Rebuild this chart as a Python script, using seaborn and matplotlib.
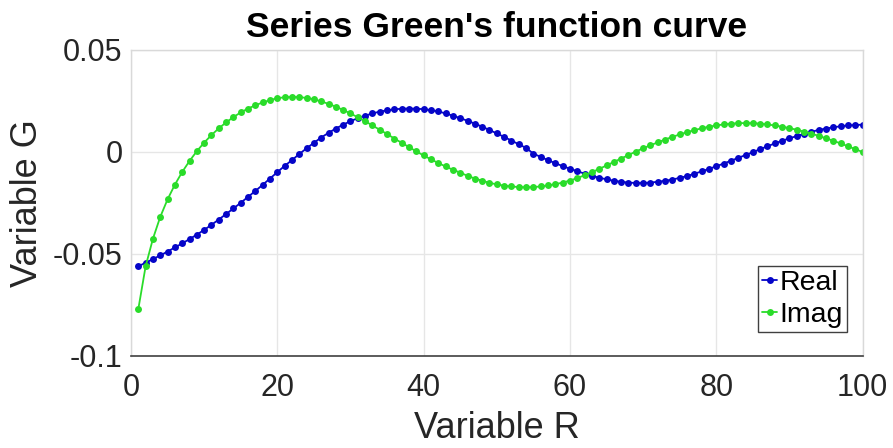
import matplotlib
matplotlib.use("Agg")
import matplotlib.pyplot as plt
import seaborn as sns
import pandas as pd

# Sample positions and the two parts of the Green's function
r_values = list(range(1, 101))

real_part = [
    -0.0560, -0.0543, -0.0525, -0.0507, -0.0488, -0.0468, -0.0448, -0.0427, -0.0405, -0.0382,
    -0.0357, -0.0331, -0.0304, -0.0277, -0.0249, -0.0220, -0.0191, -0.0161, -0.0130, -0.0099,
    -0.0068, -0.0040, -0.0010, 0.0018, 0.0045, 0.0071, 0.0094, 0.0115, 0.0134, 0.0151,
    0.0166, 0.0178, 0.0189, 0.0198, 0.0204, 0.0209, 0.0212, 0.0213, 0.0212, 0.0210,
    0.0205, 0.0199, 0.0189, 0.0178, 0.0166, 0.0153, 0.0139, 0.0124, 0.0108, 0.0091,
    0.0074, 0.0056, 0.0038, 0.0020, -0.0008, -0.0024, -0.0040, -0.0055, -0.0069, -0.0082,
    -0.0094, -0.0106, -0.0117, -0.0126, -0.0134, -0.0141, -0.0146, -0.0150, -0.0152, -0.0152,
    -0.0150, -0.0146, -0.0141, -0.0135, -0.0127, -0.0118, -0.0107, -0.0095, -0.0083, -0.0070,
    -0.0057, -0.0043, -0.0029, -0.0015, -0.0001, 0.0014, 0.0028, 0.0042, 0.0055, 0.0067,
    0.0078, 0.0089, 0.0099, 0.0108, 0.0115, 0.0121, 0.0126, 0.0130, 0.0132, 0.0134,
]

imag_part = [
    -0.0770, -0.0560, -0.0425, -0.0318, -0.0232, -0.0160, -0.0098, -0.0044, 0.0004, 0.0046,
    0.0083, 0.0116, 0.0145, 0.0171, 0.0194, 0.0213, 0.0229, 0.0243, 0.0254, 0.0264,
    0.0268, 0.0270, 0.0269, 0.0265, 0.0258, 0.0248, 0.0236, 0.0222, 0.0206, 0.0189,
    0.0170, 0.0151, 0.0130, 0.0109, 0.0088, 0.0066, 0.0045, 0.0024, 0.0003, -0.0017,
    -0.0036, -0.0054, -0.0071, -0.0087, -0.0101, -0.0117, -0.0130, -0.0141, -0.0151, -0.0159,
    -0.0165, -0.0169, -0.0172, -0.0173, -0.0172, -0.0169, -0.0164, -0.0158, -0.0150, -0.0140,
    -0.0128, -0.0114, -0.0099, -0.0083, -0.0066, -0.0049, -0.0032, -0.0015, 0.0002, 0.0018,
    0.0033, 0.0047, 0.0061, 0.0074, 0.0086, 0.0097, 0.0107, 0.0116, 0.0124, 0.0130,
    0.0135, 0.0139, 0.0141, 0.0142, 0.0141, 0.0139, 0.0135, 0.0130, 0.0124, 0.0117,
    0.0109, 0.0100, 0.0090, 0.0079, 0.0067, 0.0055, 0.0042, 0.0028, 0.0014, 0.0000,
]

series_names = ["Real", "Imag"]
series_colors = ["#0505C8", "#2ADC2A"]

x_ticks = [0, 20, 40, 60, 80, 100]
y_ticks = [-0.1, -0.05, 0, 0.05]
y_tick_labels = ["-0.1", "-0.05", "0", "0.05"]

df = pd.DataFrame({
    "R": r_values * 2,
    "G": real_part + imag_part,
    "part": [series_names[0]] * len(r_values) + [series_names[1]] * len(r_values),
})

sns.set_theme(style="white")
plt.rcParams["font.family"] = ["Liberation Sans", "DejaVu Sans"]
plt.rcParams["axes.unicode_minus"] = False

fig = plt.figure(figsize=(8.93, 4.48), dpi=100)
ax = fig.add_axes([0.1467, 0.2054, 0.8192, 0.6830])

sns.lineplot(
    data=df, x="R", y="G", hue="part", hue_order=series_names,
    palette=series_colors, marker="o", markersize=5.0, markeredgewidth=0,
    linewidth=1.3, ax=ax, legend=True,
)

ax.set_xlim(0, 100)
ax.set_ylim(-0.1, 0.05)
ax.set_xticks(x_ticks)
ax.set_xticklabels([str(t) for t in x_ticks])
ax.set_yticks(y_ticks)
ax.set_yticklabels(y_tick_labels)

ax.grid(True, color="#e6e6e6", linewidth=1.0)
ax.set_axisbelow(True)

for side in ["top", "right", "left"]:
    ax.spines[side].set_color("#d9d9d9")
    ax.spines[side].set_linewidth(1.0)
ax.spines["bottom"].set_color("#404040")
ax.spines["bottom"].set_linewidth(1.2)

ax.tick_params(axis="both", direction="in", labelsize=22, labelcolor="#262626")
ax.tick_params(axis="x", length=4, color="#404040", pad=12)
ax.tick_params(axis="y", length=4, color="#bdbdbd", pad=6)

ax.set_xlabel("Variable R", fontsize=26, color="#262626", labelpad=6)
ax.set_ylabel("Variable G", fontsize=26, color="#262626", labelpad=6)
ax.set_title("Series Green's function curve", fontsize=25.5, fontweight="bold",
             color="black", pad=9)

leg = ax.legend(
    loc="lower right", bbox_to_anchor=(0.979, 0.078), borderaxespad=0,
    fontsize=20.5, frameon=True, fancybox=False, edgecolor="#404040",
    handlelength=0.5, handletextpad=0.1, borderpad=0.15, labelspacing=0.2,
    framealpha=1.0,
)
leg.get_frame().set_linewidth(1.0)
for text in leg.get_texts():
    text.set_color("black")

fig.savefig("out.png", dpi=100)
